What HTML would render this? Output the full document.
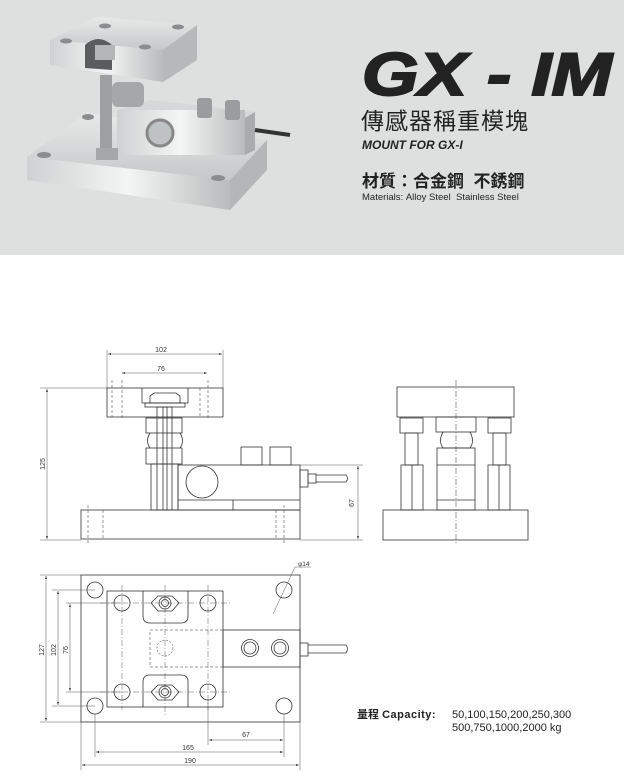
<!DOCTYPE html>
<html><head><meta charset="utf-8"><style>
html,body{margin:0;padding:0;background:#fff}
body{width:624px;height:782px;position:relative;overflow:hidden;font-family:"Liberation Sans","Noto Sans CJK TC",sans-serif}
.hdr{position:absolute;left:0;top:0;width:624px;height:255px;background:#dde0df}
.t{position:absolute;color:#222;white-space:nowrap;line-height:1}
</style></head><body>
<div class="hdr"></div>
<svg width="624" height="255" style="position:absolute;left:0;top:0">
<defs>
<linearGradient id="m1" x1="0" y1="0" x2="1" y2="0"><stop offset="0" stop-color="#cfd2d2"/><stop offset=".5" stop-color="#f4f5f5"/><stop offset="1" stop-color="#b9bcbc"/></linearGradient>
<linearGradient id="m2" x1="0" y1="0" x2="0" y2="1"><stop offset="0" stop-color="#e8eaea"/><stop offset="1" stop-color="#c5c8c8"/></linearGradient>
</defs>
<polygon points="27,157 87,113 267,140 230,180" fill="url(#m2)"/>
<polygon points="27,157 230,180 230,210 27,180" fill="url(#m1)"/>
<polygon points="230,180 267,140 267,170 230,210" fill="#b4b7b7"/>
<ellipse cx="44" cy="155" rx="7" ry="3" fill="#8a8d8d"/>
<ellipse cx="88" cy="117" rx="6" ry="3" fill="#8a8d8d"/>
<ellipse cx="218" cy="178" rx="7" ry="3" fill="#8a8d8d"/>
<polygon points="117,110 150,100 255,112 245,118" fill="#d5d8d8"/>
<rect x="117" y="110" width="128" height="45" fill="url(#m1)"/>
<polygon points="245,118 255,112 255,150 245,155" fill="#a9acac"/>
<circle cx="160" cy="133" r="13" fill="#bfc2c2" stroke="#888" stroke-width="3"/>
<rect x="197" y="98" width="15" height="20" rx="3" fill="#9a9d9d"/>
<rect x="225" y="100" width="15" height="20" rx="3" fill="#9a9d9d"/>
<path d="M255,130 L290,135" stroke="#333" stroke-width="4"/>
<rect x="112" y="82" width="32" height="25" rx="6" fill="#a5a8a8"/>
<rect x="100" y="75" width="12" height="80" fill="#9da0a0"/>
<rect x="96" y="148" width="22" height="12" fill="#a4a7a7"/>
<polygon points="50,40 97,17 197,25 163,50" fill="url(#m2)"/>
<polygon points="50,40 163,50 163,82 50,65" fill="url(#m1)"/>
<polygon points="163,50 197,25 197,60 163,82" fill="#b6b9b9"/>
<path d="M85,45 Q98,33 112,45 L112,70 L85,68 Z" fill="#5a5d5d"/>
<rect x="95" y="45" width="20" height="15" fill="#b3b6b6"/>
<ellipse cx="66" cy="41" rx="6" ry="2.5" fill="#8a8d8d"/>
<ellipse cx="145" cy="47" rx="6" ry="2.5" fill="#8a8d8d"/>
<ellipse cx="178" cy="27" rx="6" ry="2.5" fill="#8a8d8d"/>
<ellipse cx="105" cy="26" rx="6" ry="2.5" fill="#8a8d8d"/>
<text x="362" y="95" font-family="Liberation Sans, sans-serif" font-size="60" font-weight="bold" font-style="italic" fill="#222" textLength="250" lengthAdjust="spacingAndGlyphs" stroke="#222" stroke-width="2">GX - IM</text>
</svg>
<div class="t" style="left:361px;top:110px;font-size:23px;letter-spacing:1px">傳感器稱重模塊</div>
<div class="t" style="left:362px;top:139px;font-size:12px;font-weight:bold;font-style:italic">MOUNT FOR GX-I</div>
<div class="t" style="left:362px;top:173px;font-size:17px;font-weight:bold">材質：合金鋼&nbsp;&nbsp;不銹鋼</div>
<div class="t" style="left:362px;top:193px;font-size:9.5px">Materials:&nbsp;Alloy Steel&nbsp; Stainless Steel</div>

<svg width="624" height="782" style="position:absolute;left:0;top:0" font-family="Liberation Sans, sans-serif" font-size="7" fill="none" stroke="#333" stroke-width="0.8">
<defs><marker id="a" markerWidth="6" markerHeight="6" refX="6" refY="3" orient="auto-start-reverse"><path d="M0,1 L6,3 L0,5" fill="#333" stroke="none"/></marker></defs>
<g stroke-width="0.5" stroke="#555">
<line x1="107" y1="350" x2="107" y2="388"/><line x1="223" y1="350" x2="223" y2="388"/>
<line x1="108" y1="354" x2="222" y2="354" marker-start="url(#a)" marker-end="url(#a)"/>
<line x1="122" y1="373" x2="207" y2="373" marker-start="url(#a)" marker-end="url(#a)"/>
<line x1="40" y1="388" x2="107" y2="388"/><line x1="40" y1="540" x2="81" y2="540"/>
<line x1="47" y1="389" x2="47" y2="539" marker-start="url(#a)" marker-end="url(#a)"/>
<line x1="300" y1="465" x2="363" y2="465"/><line x1="300" y1="540" x2="363" y2="540"/>
<line x1="358" y1="466" x2="358" y2="539" marker-start="url(#a)" marker-end="url(#a)"/>
</g>
<g fill="#333" stroke="none">
<text x="161" y="352" text-anchor="middle">102</text>
<text x="161" y="371" text-anchor="middle">76</text>
<text transform="translate(45,464) rotate(-90)" text-anchor="middle">125</text>
<text transform="translate(354,503) rotate(-90)" text-anchor="middle">67</text>
</g>
<rect x="107" y="388" width="116" height="29"/>
<path d="M142,388 V403 H188 V388"/>
<g stroke-dasharray="3,2" stroke-width="0.5"><line x1="112" y1="380" x2="112" y2="417"/><line x1="122" y1="380" x2="122" y2="420"/><line x1="200" y1="388" x2="200" y2="417"/><line x1="208" y1="380" x2="208" y2="420"/>
<line x1="88" y1="505" x2="88" y2="545"/><line x1="103" y1="510" x2="103" y2="539"/><line x1="276" y1="510" x2="276" y2="539"/><line x1="284" y1="505" x2="284" y2="545"/></g>
<path d="M150,403 V396 L154,393 H176 L180,396 V403 Z"/>
<rect x="145" y="403" width="40" height="4"/>
<rect x="157" y="407" width="15" height="103"/>
<line x1="163" y1="407" x2="163" y2="510"/><line x1="167" y1="407" x2="167" y2="510"/>
<rect x="146" y="418" width="36" height="15"/>
<path d="M150,433 Q145,441 150,448 M180,433 Q185,441 180,448"/>
<rect x="146" y="448" width="36" height="16"/>
<rect x="151" y="464" width="27" height="46"/>
<rect x="178" y="465" width="122" height="45"/>
<line x1="178" y1="500" x2="300" y2="500"/><line x1="233" y1="500" x2="233" y2="510"/>
<circle cx="202" cy="482" r="16"/>
<rect x="241" y="447" width="21" height="18"/><rect x="270" y="447" width="21" height="18"/>
<rect x="300" y="470" width="8" height="17"/><rect x="308" y="474" width="8" height="9"/>
<path d="M316,475 H346 Q349,478.5 346,482 H316"/>
<rect x="81" y="510" width="219" height="29"/>
<rect x="397" y="387" width="117" height="30"/>
<rect x="383" y="510" width="145" height="30"/>
<line x1="456" y1="380" x2="456" y2="545" stroke-dasharray="6,2,1,2" stroke-width="0.5"/>
<rect x="436" y="417" width="40" height="15"/>
<path d="M443,432 Q438,441 443,448 H470 Q475,441 470,432"/>
<rect x="437" y="448" width="38" height="62"/>
<line x1="437" y1="465" x2="475" y2="465"/><line x1="437" y1="500" x2="475" y2="500"/>
<path d="M400,418 H423 V433 H400 Z"/><rect x="405" y="433" width="13" height="32"/><rect x="401" y="465" width="22" height="45"/><line x1="412" y1="465" x2="412" y2="510"/>
<path d="M488,418 H511 V433 H488 Z"/><rect x="493" y="433" width="13" height="32"/><rect x="488" y="465" width="22" height="45"/><line x1="499" y1="465" x2="499" y2="510"/>
<rect x="81" y="575" width="219" height="147"/>
<rect x="107" y="591" width="116" height="116"/>
<rect x="223" y="630" width="77" height="37"/>
<rect x="150" y="630" width="73" height="37" stroke-dasharray="3,2" stroke-width="0.5"/>
<circle cx="165" cy="648" r="8" stroke-dasharray="2,1.5" stroke-width="0.5"/>
<g><circle cx="95" cy="590" r="8"/><circle cx="95" cy="706" r="8"/><circle cx="284" cy="590" r="8"/><circle cx="284" cy="706" r="8"/>
<circle cx="122" cy="603" r="8"/><circle cx="208" cy="603" r="8"/><circle cx="122" cy="692" r="8"/><circle cx="208" cy="692" r="8"/></g>
<path d="M143,591 V616 Q143,623 150,623 H181 Q188,623 188,616 V591"/>
<path d="M143,707 V682 Q143,675 150,675 H181 Q188,675 188,682 V707"/>
<polygon points="158,596 172,596 179,603 172,611 158,611 151,603"/><circle cx="165" cy="603" r="6"/><circle cx="165" cy="603" r="3.5"/>
<polygon points="158,685 172,685 179,692 172,700 158,700 151,692"/><circle cx="165" cy="692" r="6"/><circle cx="165" cy="692" r="3.5"/>
<circle cx="250" cy="648" r="8.5"/><circle cx="250" cy="648" r="6"/><circle cx="280" cy="648" r="8.5"/><circle cx="280" cy="648" r="6"/>
<rect x="300" y="643" width="8" height="13"/><path d="M308,645 H346 Q349,648.5 346,653 H308"/>
<g stroke-dasharray="6,2,1,2" stroke-width="0.4"><line x1="100" y1="603" x2="230" y2="603"/><line x1="100" y1="692" x2="230" y2="692"/><line x1="165" y1="585" x2="165" y2="715"/><line x1="122" y1="585" x2="122" y2="710"/><line x1="208" y1="585" x2="208" y2="710"/></g>
<g stroke-width="0.5" stroke="#555">
<line x1="40" y1="575" x2="81" y2="575"/><line x1="40" y1="722" x2="81" y2="722"/>
<line x1="46" y1="576" x2="46" y2="721" marker-start="url(#a)" marker-end="url(#a)"/>
<line x1="52" y1="590" x2="95" y2="590"/><line x1="52" y1="706" x2="95" y2="706"/>
<line x1="58" y1="591" x2="58" y2="705" marker-start="url(#a)" marker-end="url(#a)"/>
<line x1="66" y1="603" x2="122" y2="603"/><line x1="66" y1="692" x2="122" y2="692"/>
<line x1="70" y1="604" x2="70" y2="691" marker-start="url(#a)" marker-end="url(#a)"/>
<line x1="81" y1="722" x2="81" y2="770"/><line x1="300" y1="722" x2="300" y2="770"/>
<line x1="95" y1="714" x2="95" y2="757"/><line x1="284" y1="714" x2="284" y2="757"/>
<line x1="208" y1="700" x2="208" y2="745"/>
<line x1="209" y1="740" x2="283" y2="740" marker-start="url(#a)" marker-end="url(#a)"/>
<line x1="96" y1="752" x2="283" y2="752" marker-start="url(#a)" marker-end="url(#a)"/>
<line x1="82" y1="765" x2="299" y2="765" marker-start="url(#a)" marker-end="url(#a)"/>
<line x1="273" y1="614" x2="295" y2="567"/><line x1="295" y1="567" x2="311" y2="567"/>
</g>
<g fill="#333" stroke="none">
<text transform="translate(44,650) rotate(-90)" text-anchor="middle">127</text>
<text transform="translate(56,650) rotate(-90)" text-anchor="middle">102</text>
<text transform="translate(68,650) rotate(-90)" text-anchor="middle">76</text>
<text x="246" y="737" text-anchor="middle">67</text>
<text x="188" y="750" text-anchor="middle">165</text>
<text x="190" y="763" text-anchor="middle">190</text>
<text x="298" y="566" font-size="6.5">φ14</text>
</g>
</svg>
<div class="t" style="left:357px;top:710px;font-size:11px;font-weight:bold;">量程 <span style="font-weight:900;letter-spacing:0.5px">Capacity:</span></div>
<div class="t" style="left:452px;top:709px;font-size:11px;line-height:13px">50,100,150,200,250,300<br>500,750,1000,2000 kg</div>
</body></html>
